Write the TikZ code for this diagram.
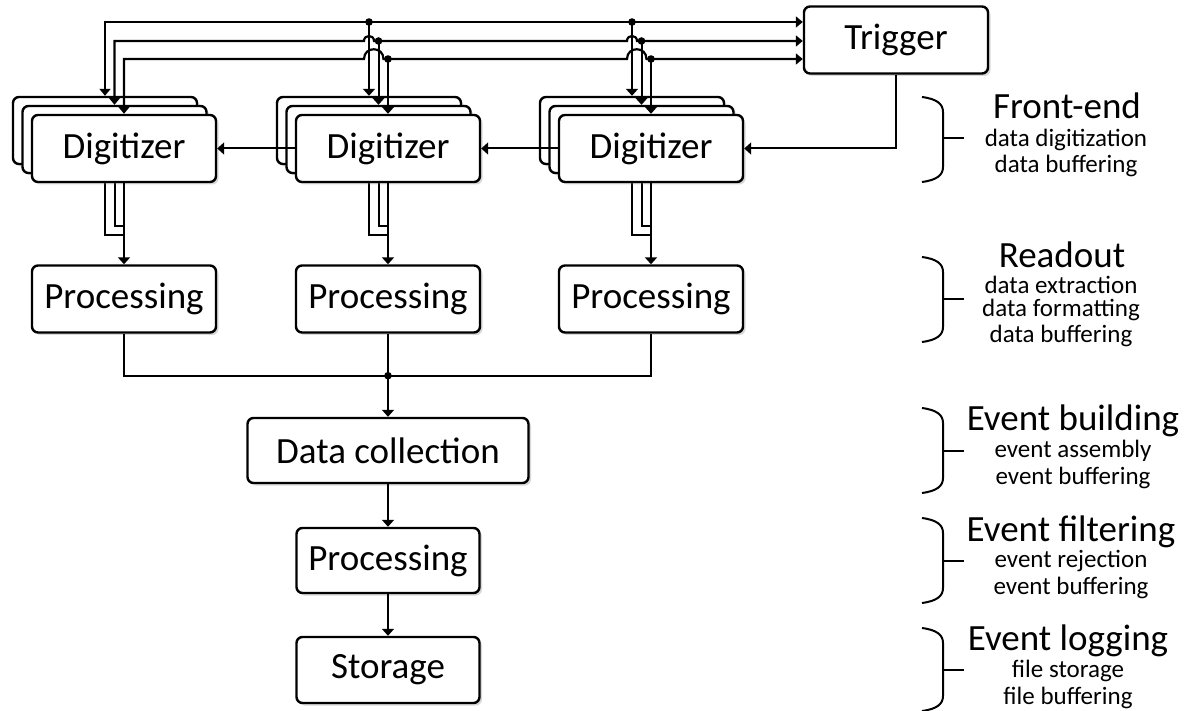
\documentclass[tikz,border=0pt]{standalone}
\usepackage{fontspec}
\setmainfont{Carlito}
\usepackage{tikz}
\usetikzlibrary{calc}
\usetikzlibrary{arrows.meta}
\usetikzlibrary{shadows}
\tikzset{
	box/.style={draw,line width=2.4pt,rounded corners=6pt,fill=white,inner sep=0pt,
		minimum width=184pt,minimum height=67pt,font=\fontsize{37}{40}\selectfont,
		drop shadow={shadow xshift=2.5pt,shadow yshift=-2.5pt,opacity=.3}},
	link/.style={line width=2pt},
	flow/.style={line width=2pt,-{Triangle[length=7pt,width=12pt]}},
	both/.style={line width=2.2pt,{Triangle[length=7pt,width=11pt]}-{Triangle[length=7pt,width=11pt]}},
	stagehead/.style={anchor=base,inner sep=0pt,font=\fontsize{37}{40}\selectfont},
	stagenote/.style={anchor=base,inner sep=0pt,font=\fontsize{25}{27}\selectfont},
	brace/.style={line width=2pt}
}
\def\stagebrace#1#2#3{
	\draw[brace] (922,#1) .. controls (937,#1+2) and (943,#1+7) .. (943,#1+15)
		-- (943,#3-15) .. controls (943,#3-7) and (937,#3-2) .. (922,#3);
	\draw[brace] (943,#2) -- (964,#2);}

\begin{document}
\begin{tikzpicture}[x=1pt,y=-1pt]
	\useasboundingbox (0,0) rectangle (1200,711);
	\fill[white] (0,0) rectangle (1200,711);
	\coordinate (bus1) at (0,22);
	\coordinate (bus2) at (0,41);
	\coordinate (bus3) at (0,59);
	\node[box] (trig) at (896,40) {Trigger};
	\node[box] (procA) at (124,299) {Processing};
	\node[box] (procB) at (388,299) {Processing};
	\node[box] (procC) at (651,299) {Processing};
	\node[box,minimum width=281pt,minimum height=65pt] (coll) at (388,450.5) {Data collection};
	\node[box,minimum width=183pt,minimum height=65pt] (filt) at (388,560.5) {Processing};
	\node[box,minimum width=183pt,minimum height=66pt] (stor) at (388,670) {Storage};
	% hidden lines of the stacked digitizers
	\path (105,130.5) coordinate (ab) (114.5,139.5) coordinate (am)
		(369,130.5) coordinate (bb) (378.5,139.5) coordinate (bm)
		(632,130.5) coordinate (cb) (641.5,139.5) coordinate (cm);
	\draw[link] ([yshift=-33.5pt]ab) |- ([yshift=29pt]procA.north);
	\draw[link] ([yshift=-33.5pt]am) |- ([yshift=38pt]procA.north);
	\draw[link] ([yshift=-33.5pt]bb) |- ([yshift=29pt]procB.north);
	\draw[link] ([yshift=-33.5pt]bm) |- ([yshift=38pt]procB.north);
	\draw[link] ([yshift=-33.5pt]cb) |- ([yshift=29pt]procC.north);
	\draw[link] ([yshift=-33.5pt]cm) |- ([yshift=38pt]procC.north);
	\node[box] (digAb) at (ab) {};
	\node[box] (digAm) at (am) {};
	\node[box] (digA) at (124,148.5) {Digitizer};
	\node[box] (digBb) at (bb) {};
	\node[box] (digBm) at (bm) {};
	\node[box] (digB) at (388,148.5) {Digitizer};
	\node[box] (digCb) at (cb) {};
	\node[box] (digCm) at (cm) {};
	\node[box] (digC) at (651,148.5) {Digitizer};
	% trigger bus
	\draw[both] (digAb.north) |- (trig.west |- bus1);
	\draw[both] (digAm.north) |- ($(digBb.north |- bus2)+(-5,0)$)
		.. controls +(0,-6.7) and +(0,-6.7) .. ($(digBb.north |- bus2)+(5,0)$)
		-- ($(digCb.north |- bus2)+(-5,0)$)
		.. controls +(0,-6.7) and +(0,-6.7) .. ($(digCb.north |- bus2)+(5,0)$)
		-- (trig.west |- bus2);
	\draw[both] (digA.north) |- ($(digBb.north |- bus3)+(-5,0)$)
		.. controls +(0,-13) and +(0,-13) .. ($(digBm.north |- bus3)+(5,0)$)
		-- ($(digCb.north |- bus3)+(-5,0)$)
		.. controls +(0,-13) and +(0,-13) .. ($(digCm.north |- bus3)+(5,0)$)
		-- (trig.west |- bus3);
	\draw[flow] (digBb.north |- bus1) -- (digBb.north);
	\draw[flow] (digBm.north |- bus2) -- (digBm.north);
	\draw[flow] (digB.north |- bus3) -- (digB.north);
	\draw[flow] (digCb.north |- bus1) -- (digCb.north);
	\draw[flow] (digCm.north |- bus2) -- (digCm.north);
	\draw[flow] (digC.north |- bus3) -- (digC.north);
	\fill (digBb.north |- bus1) circle[radius=3.8pt];
	\fill (digBm.north |- bus2) circle[radius=3.8pt];
	\fill (digB.north |- bus3) circle[radius=3.8pt];
	\fill (digCb.north |- bus1) circle[radius=3.8pt];
	\fill (digCm.north |- bus2) circle[radius=3.8pt];
	\fill (digC.north |- bus3) circle[radius=3.8pt];
	\draw[flow] (trig.south) |- (digC.east);
	\draw[flow] (digC.west) -- (digB.east);
	\draw[flow] (digB.west) -- (digA.east);
	\draw[flow] (digA.south) -- (procA.north);
	\draw[flow] (digB.south) -- (procB.north);
	\draw[flow] (digC.south) -- (procC.north);
	% readout to event builder
	\coordinate (merge) at ([yshift=-42pt]procB.south);
	\draw[link] (procA.south) |- (merge) -| (procC.south);
	\draw[link] (procB.south) -- (merge);
	\fill (merge) circle[radius=3.8pt];
	\draw[flow] (merge) -- (coll.north);
	\draw[flow] (coll.south) -- (filt.north);
	\draw[flow] (filt.south) -- (stor.north);
	% stages
	\stagebrace{97}{138}{182}
	\stagebrace{257}{299}{342}
	\stagebrace{408}{451}{493}
	\stagebrace{518}{561}{603}
	\stagebrace{628}{670}{711}
	\node[stagehead] (feHead) at (1067,119) {Front-end};
	\node[stagenote] (feNote1) at (1066,147) {data digitization};
	\node[stagenote] (feNote2) at (1066,173) {data buffering};
	\node[stagehead] (roHead) at (1062,268) {Readout};
	\node[stagenote] (roNote1) at (1061,294) {data extraction};
	\node[stagenote] (roNote2) at (1061,317) {data formatting};
	\node[stagenote] (roNote3) at (1061,343) {data buffering};
	\node[stagehead] (ebHead) at (1073,430) {Event building};
	\node[stagenote] (ebNote1) at (1073,457) {event assembly};
	\node[stagenote] (ebNote2) at (1073,484) {event buffering};
	\node[stagehead] (efHead) at (1071,541) {Event filtering};
	\node[stagenote] (efNote1) at (1071,567) {event rejection};
	\node[stagenote] (efNote2) at (1071,594) {event buffering};
	\node[stagehead] (elHead) at (1068,650) {Event logging};
	\node[stagenote] (elNote1) at (1068,677) {file storage};
	\node[stagenote] (elNote2) at (1068,704) {file buffering};
\end{tikzpicture}
\end{document}
